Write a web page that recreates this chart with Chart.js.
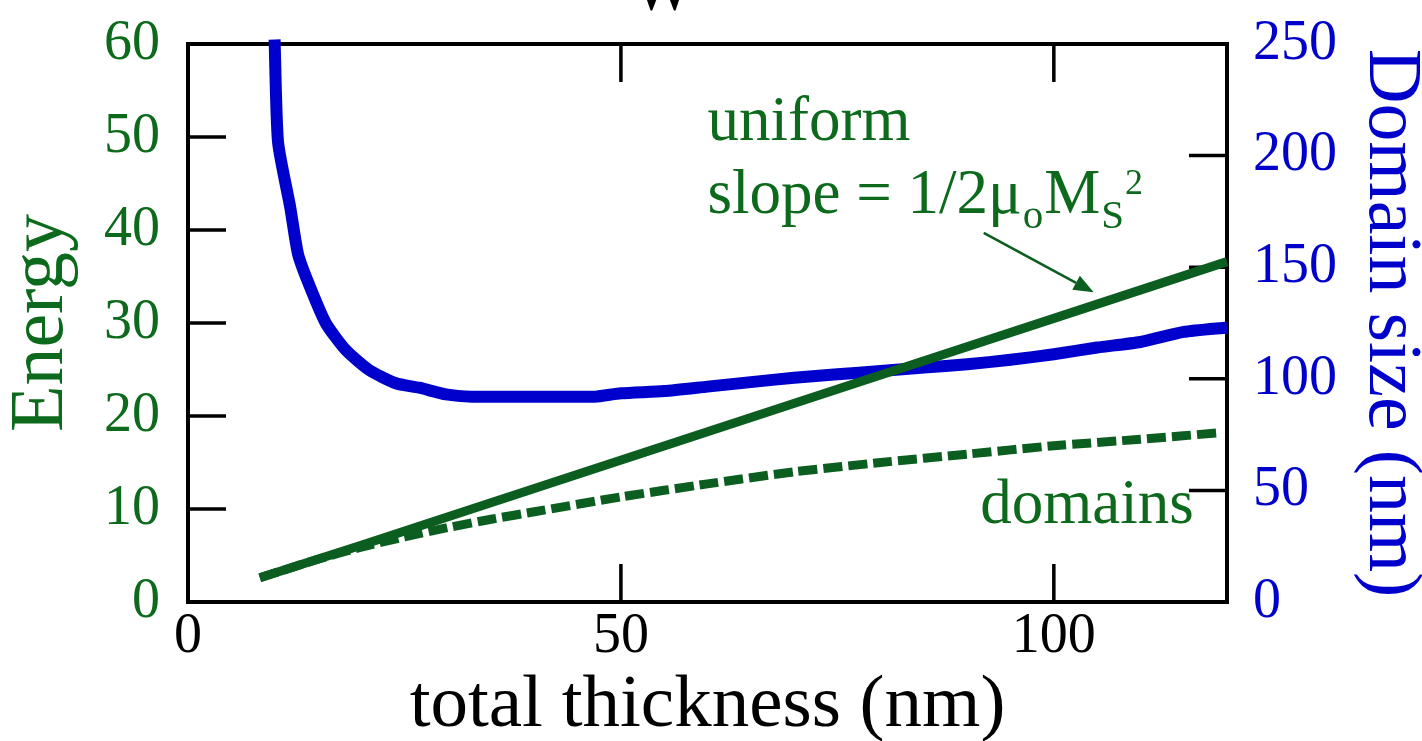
<!DOCTYPE html>
<html>
<head>
<meta charset="utf-8">
<script src="https://cdn.jsdelivr.net/npm/chart.js@4.4.0/dist/chart.umd.min.js"></script>
<style>
  html, body { margin: 0; padding: 0; background: #fff; }
  #wrap { width: 1422px; height: 741px; }
</style>
</head>
<body>
<div id="wrap"><canvas id="energyChart" width="1422" height="741"></canvas></div>
<script>
// Domain size (nm, right axis) vs total thickness (nm)
const sizeThickness = [10, 10.4, 11.8, 12.7, 13.9, 15.9, 18.2, 20.9, 24, 26.7, 29.8, 32.8, 40, 47, 50, 55, 60, 65, 70, 75, 80, 85, 90, 95, 100, 105, 110, 115, 120];
const domainSize = [252, 206, 177, 156, 143, 125, 113, 104, 98, 96, 93, 92, 92, 92, 93.5, 94.5, 96.5, 98.5, 100.5, 102, 103.5, 105, 106.5, 108.5, 111, 114, 116.5, 121, 123];

// Energy of the uniform state (solid green)
const uniformThickness = [8.3, 20, 40, 60, 80, 100, 120];
const uniformEnergy = [2.6, 6.1, 12.2, 18.3, 24.4, 30.5, 36.6];

// Energy of the domain state (dashed green)
const domainsThickness = [8.3, 15, 20, 25, 30, 35, 40, 50, 60, 70, 80, 90, 100, 110, 119.2];
const domainsEnergy = [2.6, 4.6, 5.9, 7.0, 8.0, 8.9, 9.7, 11.3, 12.7, 14.0, 15.0, 15.9, 16.8, 17.5, 18.2];

// Tick labels
const xTicks = [0, 50, 100];
const energyTicks = [0, 10, 20, 30, 40, 50, 60];
const sizeTicks = [0, 50, 100, 150, 200, 250];

const GREEN = '#0b5e1f';
const GREEN_TEXT = '#0d6a1c';
const BLUE = '#0000cc';
const SERIF = '"Liberation Serif", "Times New Roman", serif';

function toPoints(xs, ys) {
  return xs.map((x, i) => ({ x: x, y: ys[i] }));
}

// Box around the plot and short inward tick marks
const framePlugin = {
  id: 'frame',
  beforeDatasetsDraw(chart) {
    const { ctx, chartArea: a, scales } = chart;
    const tickLen = 38;
    ctx.save();
    ctx.strokeStyle = '#000';
    ctx.lineWidth = 4;
    ctx.strokeRect(a.left, a.top, a.right - a.left, a.bottom - a.top);
    ctx.lineWidth = 3.5;
    ctx.beginPath();
    xTicks.forEach(v => {
      if (v <= scales.x.min) return;
      const px = scales.x.getPixelForValue(v);
      ctx.moveTo(px, a.bottom); ctx.lineTo(px, a.bottom - tickLen);
      ctx.moveTo(px, a.top); ctx.lineTo(px, a.top + tickLen);
    });
    energyTicks.forEach(v => {
      if (v <= scales.y.min || v >= scales.y.max) return;
      const py = scales.y.getPixelForValue(v);
      ctx.moveTo(a.left, py); ctx.lineTo(a.left + tickLen, py);
    });
    sizeTicks.forEach(v => {
      if (v <= scales.y2.min || v >= scales.y2.max) return;
      const py = scales.y2.getPixelForValue(v);
      ctx.moveTo(a.right, py); ctx.lineTo(a.right - tickLen, py);
    });
    ctx.stroke();
    ctx.restore();
  }
};

// Text labels and the arrow inside the plot
const notesPlugin = {
  id: 'notes',
  afterDraw(chart) {
    const { ctx, scales } = chart;
    const X = v => scales.x.getPixelForValue(v);
    const Y = v => scales.y.getPixelForValue(v);
    ctx.save();

    // cut-off letter above the plot
    ctx.fillStyle = '#000';
    ctx.font = '63px ' + SERIF;
    ctx.textAlign = 'center';
    ctx.textBaseline = 'alphabetic';
    ctx.fillText('W', 663, 10);

    ctx.fillStyle = GREEN_TEXT;
    ctx.textAlign = 'left';
    const big = '63px ' + SERIF;
    const sub = '41px ' + SERIF;
    const sup = '36px ' + SERIF;

    ctx.font = big;
    ctx.fillText('uniform', X(60), Y(49.7));
    ctx.fillText('domains', X(91.5), Y(8.5));

    // slope = 1/2 mu_o M_S^2
    let x = X(60);
    const base = Y(41.8);
    const parts = [
      ['slope = 1/2\u03bc', big, 0],
      ['o', sub, 15],
      ['M', big, 0],
      ['S', sub, 15],
      ['2', sup, -19]
    ];
    parts.forEach(([txt, font, dy]) => {
      ctx.font = font;
      ctx.fillText(txt, x, base + dy);
      x += ctx.measureText(txt).width + 1;
    });

    // arrow to the uniform line
    const x0 = X(91.9), y0 = Y(39.7), x1 = X(104.6), y1 = Y(33.3);
    const ang = Math.atan2(y1 - y0, x1 - x0);
    const head = 20, half = 8;
    ctx.strokeStyle = GREEN;
    ctx.fillStyle = GREEN;
    ctx.lineWidth = 2.5;
    ctx.beginPath();
    ctx.moveTo(x0, y0);
    ctx.lineTo(x1 - head * Math.cos(ang), y1 - head * Math.sin(ang));
    ctx.stroke();
    ctx.beginPath();
    ctx.moveTo(x1, y1);
    ctx.lineTo(x1 - head * Math.cos(ang) + half * Math.sin(ang), y1 - head * Math.sin(ang) - half * Math.cos(ang));
    ctx.lineTo(x1 - head * Math.cos(ang) - half * Math.sin(ang), y1 - head * Math.sin(ang) + half * Math.cos(ang));
    ctx.closePath();
    ctx.fill();

    ctx.restore();
  }
};

// fixed axis sizes so the plot box lands where it should
function fixWidth(w) {
  return s => { s.width = w; s.paddingTop = 0; s.paddingBottom = 0; };
}

new Chart(document.getElementById('energyChart'), {
  type: 'line',
  data: {
    datasets: [
      {
        label: 'uniform',
        data: toPoints(uniformThickness, uniformEnergy),
        yAxisID: 'y',
        borderColor: GREEN,
        borderWidth: 9,
        borderCapStyle: 'butt',
        pointRadius: 0,
        tension: 0,
        clip: false
      },
      {
        label: 'domains',
        data: toPoints(domainsThickness, domainsEnergy),
        yAxisID: 'y',
        borderColor: GREEN,
        borderWidth: 9,
        borderDash: [19, 6],
        borderCapStyle: 'butt',
        pointRadius: 0,
        tension: 0.2,
        clip: false
      },
      {
        label: 'Domain size',
        data: toPoints(sizeThickness, domainSize),
        yAxisID: 'y2',
        borderColor: BLUE,
        borderWidth: 12,
        borderCapStyle: 'butt',
        pointRadius: 0,
        tension: 0.2,
        clip: false
      }
    ]
  },
  options: {
    responsive: false,
    animation: false,
    devicePixelRatio: 1,
    events: [],
    layout: { padding: { top: 44, left: 0, right: 0, bottom: 0 } },
    plugins: {
      legend: { display: false },
      tooltip: { enabled: false }
    },
    scales: {
      x: {
        type: 'linear',
        min: 0,
        max: 120,
        afterBuildTicks: s => { s.ticks = xTicks.map(v => ({ value: v })); },
        afterFit: s => { s.height = 139; },
        grid: { display: false, drawTicks: false, tickLength: 0 },
        border: { display: false },
        ticks: {
          color: '#000',
          font: { family: SERIF, size: 56 },
          padding: 2,
          maxRotation: 0,
          autoSkip: false
        },
        title: {
          display: true,
          text: 'total thickness (nm)',
          color: '#000',
          font: { family: SERIF, size: 75, lineHeight: 0.93 },
          padding: 0
        }
      },
      y: {
        type: 'linear',
        position: 'left',
        min: 0,
        max: 60,
        afterBuildTicks: s => { s.ticks = energyTicks.map(v => ({ value: v })); },
        afterFit: fixWidth(188),
        grid: { display: false, drawTicks: false, tickLength: 0 },
        border: { display: false },
        ticks: {
          color: GREEN_TEXT,
          font: { family: SERIF, size: 56 },
          padding: 28
        },
        title: {
          display: true,
          text: 'Energy',
          color: GREEN_TEXT,
          font: { family: SERIF, size: 76, lineHeight: 1.1 },
          padding: 0
        }
      },
      y2: {
        type: 'linear',
        position: 'right',
        min: 0,
        max: 250,
        afterBuildTicks: s => { s.ticks = sizeTicks.map(v => ({ value: v })); },
        afterFit: fixWidth(195),
        grid: { display: false, drawTicks: false, tickLength: 0 },
        border: { display: false },
        ticks: {
          color: BLUE,
          font: { family: SERIF, size: 56 },
          padding: 26
        },
        title: {
          display: true,
          text: 'Domain size (nm)',
          color: BLUE,
          font: { family: SERIF, size: 76, lineHeight: 0.84 },
          padding: 0
        }
      }
    }
  },
  plugins: [framePlugin, notesPlugin]
});
</script>
</body>
</html>
